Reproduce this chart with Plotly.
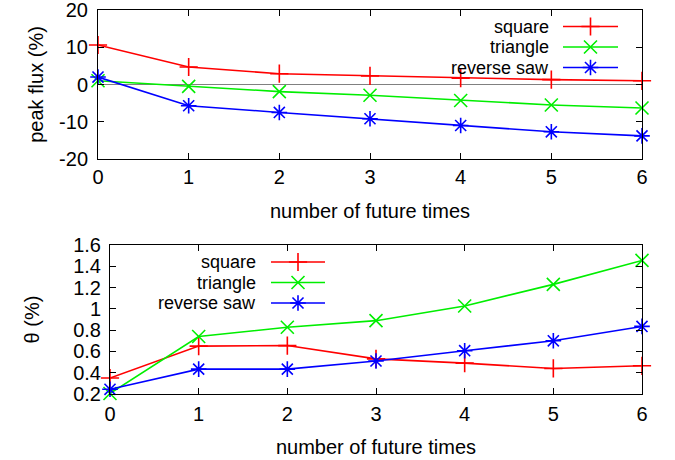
import plotly.graph_objects as go

# ---- data ----
future_times = [0, 1, 2, 3, 4, 5, 6]
series_names = ["square", "triangle", "reverse saw"]

flux_square = [10.6, 4.7, 2.9, 2.3, 1.7, 1.3, 1.0]
flux_triangle = [1.0, -0.5, -1.9, -2.9, -4.3, -5.5, -6.3]
flux_revsaw = [2.0, -5.7, -7.5, -9.2, -11.0, -12.7, -13.8]

theta_square = [0.35, 0.65, 0.655, 0.53, 0.49, 0.44, 0.465]
theta_triangle = [0.205, 0.74, 0.827, 0.889, 1.027, 1.23, 1.455]
theta_revsaw = [0.244, 0.434, 0.434, 0.51, 0.607, 0.70, 0.835]

flux_ticks = [-20, -10, 0, 10, 20]
flux_ticktext = ["-20", "-10", "0", "10", "20"]
theta_ticks = [0.2, 0.4, 0.6, 0.8, 1.0, 1.2, 1.4, 1.6]
theta_ticktext = ["0.2", "0.4", "0.6", "0.8", "1", "1.2", "1.4", "1.6"]
x_ticks = [0, 1, 2, 3, 4, 5, 6]
x_ticktext = ["0", "1", "2", "3", "4", "5", "6"]

# ---- styles ----
W, H = 675, 460
ML, MR, MT, MB = 98, 33, 10, 66
PW, PH = W - ML - MR, H - MT - MB
colors = ["#ff0000", "#00ee00", "#0000ff"]
symbols = ["cross-thin-open", "x-thin-open", "asterisk-open"]
FONT = "Liberation Sans, Arial, sans-serif"
FS = 20
LEG_FS = 18

def dx(p):
    return (p - ML) / PW

def dy(p):
    return (H - MB - p) / PH

top_dom_x = [dx(98), dx(642)]
top_dom_y = [dy(159), dy(10)]
bot_dom_x = [dx(110), dx(642)]
bot_dom_y = [dy(394), dy(245)]

fig = go.Figure()

def add_series(xs, ys, i, xa, ya):
    fig.add_trace(go.Scatter(
        x=xs, y=ys, mode="lines+markers", name=series_names[i],
        xaxis=xa, yaxis=ya, cliponaxis=False, showlegend=False,
        line=dict(color=colors[i], width=1.6),
        marker=dict(symbol=symbols[i], size=13, color=colors[i],
                    line=dict(color=colors[i], width=1.6)),
    ))

for i, ys in enumerate([flux_square, flux_triangle, flux_revsaw]):
    add_series(future_times, ys, i, "x", "y")
for i, ys in enumerate([theta_square, theta_triangle, theta_revsaw]):
    add_series(future_times, ys, i, "x2", "y2")

# ---- gnuplot-style legends (text left of key) on a pixel overlay axis ----
legend_specs = [
    # text right edge, key x0, key x1, row y positions (pixels)
    (550, 563, 618, [26.5, 47, 67.5]),
    (257, 271, 325, [262, 282.5, 303]),
]
annotations = []
for text_right, kx0, kx1, rows in legend_specs:
    for i, ry in enumerate(rows):
        fig.add_trace(go.Scatter(
            x=[kx0, kx1], y=[ry, ry], mode="lines", xaxis="x3", yaxis="y3",
            showlegend=False, hoverinfo="skip", cliponaxis=False,
            line=dict(color=colors[i], width=1.6)))
        fig.add_trace(go.Scatter(
            x=[(kx0 + kx1) / 2], y=[ry], mode="markers", xaxis="x3", yaxis="y3",
            showlegend=False, hoverinfo="skip", cliponaxis=False,
            marker=dict(symbol=symbols[i], size=13, color=colors[i],
                        line=dict(color=colors[i], width=1.6))))
        annotations.append(dict(
            x=dx(text_right), y=dy(ry), xref="paper", yref="paper",
            xanchor="right", yanchor="middle", showarrow=False, borderpad=0,
            text=series_names[i],
            font=dict(family=FONT, size=LEG_FS, color="black")))

axis_common = dict(
    showline=True, linecolor="black", linewidth=1, mirror="ticks",
    ticks="inside", ticklen=6, tickwidth=1, tickcolor="black",
    showgrid=False, automargin=False, ticklabeloverflow="allow",
    tickfont=dict(family=FONT, size=FS, color="black"),
)

fig.update_layout(
    width=W, height=H,
    margin=dict(l=ML, r=MR, t=MT, b=MB, autoexpand=False),
    paper_bgcolor="white", plot_bgcolor="rgba(0,0,0,0)",
    font=dict(family=FONT, size=FS, color="black"),
    xaxis=dict(domain=top_dom_x, anchor="y", range=[0, 6],
               tickvals=x_ticks, ticktext=x_ticktext, zeroline=False,
               ticklabelstandoff=0,
               title=dict(text="number of future times", standoff=16,
                          font=dict(family=FONT, size=FS)),
               **axis_common),
    yaxis=dict(domain=top_dom_y, anchor="x", range=[-20, 20],
               tickvals=flux_ticks, ticktext=flux_ticktext,
               zeroline=True, zerolinecolor="#808080", zerolinewidth=1,
               ticklabelstandoff=5,
               title=dict(text="peak flux (%)", standoff=10,
                          font=dict(family=FONT, size=FS)),
               **axis_common),
    xaxis2=dict(domain=bot_dom_x, anchor="y2", range=[0, 6],
                tickvals=x_ticks, ticktext=x_ticktext, zeroline=False,
                ticklabelstandoff=2,
                title=dict(text="number of future times", standoff=15,
                           font=dict(family=FONT, size=FS)),
                **axis_common),
    yaxis2=dict(domain=bot_dom_y, anchor="x2", range=[0.2, 1.6],
                tickvals=theta_ticks, ticktext=theta_ticktext, zeroline=False,
                ticklabelstandoff=4,
                title=dict(text="θ (%)", standoff=28,
                           font=dict(family=FONT, size=FS)),
                **axis_common),
    xaxis3=dict(domain=[0, 1], anchor="y3", range=[ML, W - MR],
                visible=False, fixedrange=True, automargin=False),
    yaxis3=dict(domain=[0, 1], anchor="x3", range=[H - MB, MT],
                visible=False, fixedrange=True, automargin=False),
    annotations=annotations,
)

fig.write_html("out.html")
